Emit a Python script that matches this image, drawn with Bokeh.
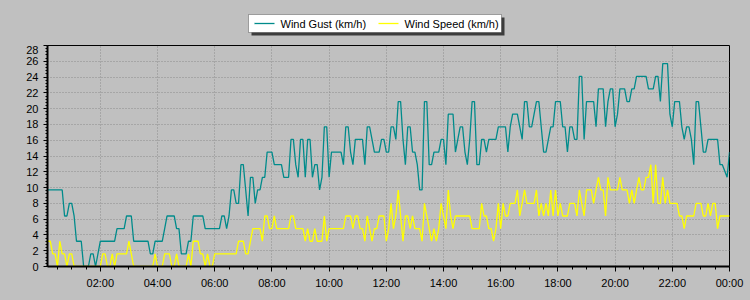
from bokeh.plotting import figure
from bokeh.layouts import column
from bokeh.models import FixedTicker, BoxAnnotation, Range1d, ColumnDataSource
from bokeh.core.properties import value
from bokeh.embed import file_html
from bokeh.resources import INLINE

# 5-minute samples from 00:05 to 24:00 (one row per hour: :05 ... next :00)
gust = [
    9.7, 9.7, 9.7, 9.7, 9.7, 9.7, 9.7, 9.7, 6.4, 6.4, 8.0, 8.0,
    6.4, 3.2, 3.2, 3.2, 0, 0, 0, 1.6, 1.6, 0, 1.6, 3.2,
    3.2, 3.2, 3.2, 3.2, 3.2, 3.2, 4.8, 4.8, 4.8, 4.8, 6.4, 6.4,
    6.4, 3.2, 3.2, 3.2, 3.2, 3.2, 3.2, 3.2, 1.6, 1.6, 3.2, 3.2,
    3.2, 3.2, 4.8, 6.4, 6.4, 6.4, 6.4, 4.8, 4.8, 1.6, 1.6, 1.6,
    3.2, 3.2, 6.4, 6.4, 6.4, 6.4, 6.4, 4.8, 4.8, 4.8, 4.8, 4.8,
    4.8, 4.8, 6.4, 6.4, 4.8, 6.4, 9.7, 9.7, 8.0, 8.0, 12.9, 12.9,
    9.7, 6.4, 11.3, 11.3, 8.0, 9.7, 9.7, 11.3, 11.3, 14.5, 14.5, 14.5,
    12.9, 12.9, 12.9, 12.9, 11.3, 11.3, 11.3, 16.1, 16.1, 12.9, 11.3, 16.1,
    16.1, 11.3, 16.1, 16.1, 11.3, 12.9, 12.9, 9.7, 11.3, 17.7, 17.7, 11.3,
    14.5, 14.5, 14.5, 14.5, 14.5, 12.9, 17.7, 17.7, 14.5, 12.9, 16.1, 16.1,
    16.1, 16.1, 12.9, 17.7, 17.7, 16.1, 14.5, 14.5, 14.5, 16.1, 16.1, 14.5,
    14.5, 17.7, 17.7, 16.1, 20.9, 20.9, 16.1, 12.9, 17.7, 17.7, 14.5, 14.5,
    12.9, 9.7, 9.7, 20.9, 20.9, 12.9, 12.9, 14.5, 14.5, 14.5, 16.1, 16.1,
    12.9, 19.3, 19.3, 19.3, 14.5, 16.1, 17.7, 17.7, 14.5, 12.9, 16.1, 20.9,
    20.9, 12.9, 12.9, 16.1, 16.1, 14.5, 16.1, 16.1, 16.1, 16.1, 17.7, 17.7,
    17.7, 17.7, 14.5, 17.7, 19.3, 19.3, 19.3, 17.7, 16.1, 20.9, 20.9, 17.7,
    17.7, 19.3, 20.9, 20.9, 17.7, 14.5, 14.5, 16.1, 17.7, 17.7, 20.9, 20.9,
    20.9, 17.7, 17.7, 14.5, 17.7, 17.7, 16.1, 16.1, 24.1, 24.1, 16.1, 20.9,
    20.9, 20.9, 20.9, 17.7, 22.5, 22.5, 22.5, 17.7, 20.9, 22.5, 22.5, 17.7,
    19.3, 22.5, 22.5, 22.5, 20.9, 20.9, 22.5, 22.5, 24.1, 24.1, 24.1, 24.1,
    24.1, 22.5, 22.5, 22.5, 24.1, 24.1, 20.9, 25.7, 25.7, 25.7, 19.3, 17.7,
    20.9, 20.9, 20.9, 17.7, 16.1, 17.7, 17.7, 16.1, 12.9, 20.9, 20.9, 17.7,
    14.5, 14.5, 16.1, 16.1, 16.1, 16.1, 16.1, 12.9, 12.9, 12.1, 11.3, 14.5,
]

speed = [
    3.2, 3.2, 3.2, 1.6, 1.6, 0, 3.2, 1.6, 1.6, 0, 1.6, 1.6,
    0, 0, 0, 0, 0, 0, 0, 0, 0, 0, 0, 0,
    1.6, 1.6, 0, 0, 1.6, 0, 1.6, 1.6, 1.6, 1.6, 1.6, 3.2,
    1.6, 0, 0, 0, 0, 0, 0, 0, 0, 0, 1.6, 0,
    0, 0, 1.6, 1.6, 1.6, 0, 0, 1.6, 0, 0, 0, 0,
    1.6, 0, 3.2, 3.2, 3.2, 1.6, 1.6, 0, 1.6, 0, 0, 1.6,
    1.6, 1.6, 1.6, 1.6, 1.6, 1.6, 1.6, 1.6, 1.6, 3.2, 3.2, 3.2,
    1.6, 1.6, 3.2, 4.8, 4.8, 4.8, 4.8, 3.2, 6.4, 6.4, 4.8, 4.8,
    6.4, 4.8, 4.8, 4.8, 4.8, 4.8, 4.8, 6.4, 6.4, 4.8, 4.8, 4.8,
    4.8, 3.2, 4.8, 3.2, 3.2, 4.8, 3.2, 3.2, 3.2, 6.4, 3.2, 4.8,
    4.8, 4.8, 4.8, 4.8, 4.8, 4.8, 6.4, 6.4, 6.4, 4.8, 6.4, 6.4,
    4.8, 4.8, 3.2, 6.4, 4.8, 3.2, 4.8, 4.8, 6.4, 6.4, 6.4, 3.2,
    4.8, 8.0, 4.8, 6.4, 9.7, 6.4, 3.2, 6.4, 6.4, 4.8, 6.4, 4.8,
    4.8, 4.8, 3.2, 8.0, 6.4, 4.8, 3.2, 4.8, 3.2, 4.8, 8.0, 6.4,
    4.8, 9.7, 6.4, 4.8, 6.4, 6.4, 6.4, 6.4, 6.4, 6.4, 6.4, 4.8,
    4.8, 4.8, 4.8, 8.0, 6.4, 6.4, 4.8, 4.8, 3.2, 4.8, 8.0, 4.8,
    8.0, 6.4, 6.4, 8.0, 8.0, 8.0, 9.7, 6.4, 8.0, 9.7, 8.0, 8.0,
    8.0, 8.0, 9.7, 6.4, 8.0, 6.4, 8.0, 6.4, 9.7, 6.4, 9.7, 6.4,
    8.0, 6.4, 6.4, 6.4, 8.0, 8.0, 8.0, 6.4, 9.7, 8.0, 6.4, 9.7,
    9.7, 9.7, 8.0, 9.7, 11.3, 9.7, 9.7, 6.4, 11.3, 9.7, 9.7, 9.7,
    9.7, 11.3, 9.7, 9.7, 9.7, 8.0, 9.7, 8.0, 9.7, 11.3, 9.7, 9.7,
    11.3, 11.3, 12.9, 8.0, 12.9, 8.0, 8.0, 11.3, 8.0, 9.7, 8.0, 8.0,
    8.0, 8.0, 6.4, 6.4, 4.8, 6.4, 6.4, 6.4, 6.4, 8.0, 8.0, 8.0,
    6.4, 6.4, 8.0, 6.4, 8.0, 8.0, 4.8, 6.4, 6.4, 6.4, 6.4, 6.4,
]

hour_ticks = [2, 4, 6, 8, 10, 12, 14, 16, 18, 20, 22, 24]
tick_labels = ["02:00", "04:00", "06:00", "08:00", "10:00", "12:00",
               "14:00", "16:00", "18:00", "20:00", "22:00", "00:00"]
y_ticks = [0, 2, 4, 6, 8, 10, 12, 14, 16, 18, 20, 22, 24, 26, 28]
series_names = ["Wind Gust (km/h)", "Wind Speed (km/h)"]
series_colors = ["#008b8b", "#ffff00"]

hours = [(i + 1) * 5 / 60 for i in range(len(gust))]
src = ColumnDataSource(dict(t=hours, gust=gust, speed=speed))

BG = "#c0c0c0"
FONT = "Liberation Sans"

# ---- main chart ----
p = figure(width=750, height=255, output_backend="svg", toolbar_location=None,
           x_range=Range1d(0.153, 24), y_range=Range1d(0, 28),
           min_border_left=47, min_border_right=21, min_border_top=0, min_border_bottom=34,
           background_fill_color=BG, border_fill_color=BG,
           outline_line_color="black", outline_line_width=1)

p.line("t", "gust", source=src, line_color=series_colors[0], line_width=1.3)
p.line("t", "speed", source=src, line_color=series_colors[1], line_width=1.3)

p.xaxis.ticker = FixedTicker(ticks=hour_ticks, minor_ticks=[i * 0.5 for i in range(1, 48)])
p.xaxis.major_label_overrides = {t: l for t, l in zip(hour_ticks, tick_labels)}
p.yaxis.ticker = FixedTicker(ticks=y_ticks, minor_ticks=[i * 0.4 for i in range(1, 70)])

for ax in (p.xaxis[0], p.yaxis[0]):
    ax.axis_line_color = "black"
    ax.axis_line_width = 2
    ax.major_tick_line_color = "black"
    ax.minor_tick_line_color = "black"
    ax.major_tick_in = 0
    ax.minor_tick_in = 0
    ax.major_label_text_font = FONT
    ax.major_label_text_font_size = "11px"
    ax.major_label_text_color = "black"
p.xaxis.major_tick_out = 5
p.xaxis.minor_tick_out = 3
p.xaxis.major_label_standoff = 5
p.yaxis.major_tick_out = 4
p.yaxis.minor_tick_out = 2
p.yaxis.major_label_standoff = 5

for g in (p.xgrid[0], p.ygrid[0]):
    g.grid_line_color = "#8c8c8c"
    g.grid_line_dash = "1 2"
    g.grid_line_width = 1

# ---- legend strip (top 45 px); its frame is aligned with the chart frame (x 47..729) ----
leg = figure(width=750, height=45, output_backend="svg", toolbar_location=None,
             x_range=Range1d(47, 729), y_range=Range1d(45, 0),
             x_axis_type=None, y_axis_type=None,
             min_border_left=47, min_border_right=21, min_border_top=0, min_border_bottom=0,
             background_fill_color=BG, border_fill_color=BG, outline_line_color=None)
leg.xgrid.visible = False
leg.ygrid.visible = False
leg.add_layout(BoxAnnotation(left=251, right=504, top=17, bottom=35,
                             fill_color="#3c3c3c", fill_alpha=1, line_color=None))
leg.add_layout(BoxAnnotation(left=248, right=501, top=14, bottom=32,
                             fill_color="white", fill_alpha=1,
                             line_color="black", line_width=1))
leg.segment(x0=[254, 378], y0=[23, 23], x1=[274, 398], y1=[23, 23],
            line_color=series_colors, line_width=1.3, level="overlay")
leg.text(x=[280, 404], y=[23, 23], text=series_names,
         text_font=value(FONT), text_font_size="11px", text_color="black",
         text_baseline="middle", text_align="left", level="overlay")

layout = column(leg, p, spacing=0, styles={"background-color": BG})
open("out.html", "w").write(file_html(layout, INLINE))
